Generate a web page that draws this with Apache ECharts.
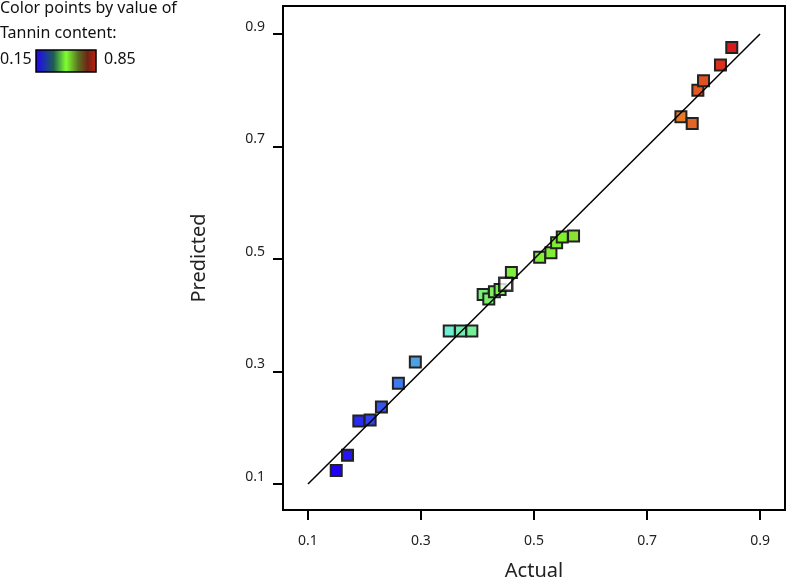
<!DOCTYPE html>
<html>
<head>
<meta charset="utf-8">
<script src="https://cdn.jsdelivr.net/npm/echarts@6/dist/echarts.min.js"></script>
<style>
html,body{margin:0;padding:0;background:#fff;}
#chart{width:786px;height:580px;}
</style>
</head>
<body>
<div id="chart"></div>
<script>
// Data
var actual    = [0.15, 0.17, 0.19, 0.21, 0.23, 0.26, 0.29, 0.35, 0.37, 0.39, 0.41, 0.42, 0.43, 0.44, 0.45, 0.46, 0.51, 0.53, 0.54, 0.55, 0.57, 0.76, 0.78, 0.79, 0.80, 0.83, 0.85];
var predicted = [0.124, 0.151, 0.212, 0.214, 0.237, 0.279, 0.317, 0.372, 0.372, 0.372, 0.437, 0.429, 0.442, 0.446, 0.455, 0.476, 0.503, 0.511, 0.529, 0.539, 0.541, 0.753, 0.741, 0.80, 0.817, 0.845, 0.876];
var highlightedIndex = 14;
var lineX = [0.1, 0.9];
var lineY = [0.1, 0.9];
var tickValues = [0.1, 0.3, 0.5, 0.7, 0.9];
var colorMin = 0.15, colorMax = 0.85;
var colorLabels = ['0.15', '0.85'];

var points = [];
for (var i = 0; i < actual.length; i++) {
  if (i !== highlightedIndex) points.push([actual[i], predicted[i]]);
}
var selPoint = [[actual[highlightedIndex], predicted[highlightedIndex]]];
var lineData = lineX.map(function (x, i) { return [x, lineY[i]]; });

var chart = echarts.init(document.getElementById('chart'), null, {renderer: 'canvas'});
var font = 'Noto Sans';
var axisCommon = {
  type: 'value',
  axisLine: {show: false},
  splitLine: {show: false},
  axisTick: {show: true, inside: false, length: 10, customValues: tickValues, lineStyle: {color: '#000', width: 2}},
  axisLabel: {customValues: tickValues, color: '#222', fontSize: 14, fontFamily: font,
    formatter: function (v) { return String(Math.round(v * 10) / 10); }},
  nameLocation: 'middle',
  nameTextStyle: {color: '#222', fontSize: 20, fontFamily: font}
};

chart.setOption({
  animation: false,
  backgroundColor: '#fff',
  grid: {left: 283, right: 1, top: 6, bottom: 70, show: true, borderColor: '#000', borderWidth: 2,
    backgroundColor: 'transparent', containLabel: false, outerBoundsMode: 'none'},
  xAxis: Object.assign({}, axisCommon, {
    min: 0.0558, max: 0.9442, name: 'Actual', nameGap: 51,
    axisLabel: Object.assign({}, axisCommon.axisLabel, {margin: 24})
  }),
  yAxis: Object.assign({}, axisCommon, {
    min: 0.0538, max: 0.9498, name: 'Predicted', nameGap: 74, nameRotate: 90,
    axisLabel: Object.assign({}, axisCommon.axisLabel, {margin: 18, verticalAlign: 'bottom'})
  }),
  visualMap: {
    show: false, type: 'continuous', dimension: 0, seriesIndex: 0,
    min: colorMin, max: colorMax,
    inRange: {color: ['#2000f4', '#3a6cf0', '#6eeed0', '#7ff040', '#82ee30', '#b4b030', '#e6862a', '#d81a1a']}
  },
  series: [
    {
      type: 'scatter', data: points, symbol: 'rect', symbolSize: 11, z: 2,
      itemStyle: {borderColor: '#222', borderWidth: 2, opacity: 1}
    },
    {
      type: 'scatter', data: selPoint, symbol: 'rect', symbolSize: 13, z: 3,
      itemStyle: {color: '#fff', borderColor: '#000', borderWidth: 2.5}
    },
    {
      type: 'line', data: lineData, showSymbol: false, symbol: 'none', z: 4,
      lineStyle: {color: '#000', width: 1.5}
    }
  ],
  graphic: [
    {type: 'text', left: 0, top: 0, style: {text: 'Color points by value of', font: '16px "' + font + '"', fill: '#111'}},
    {type: 'text', left: 0, top: 25, style: {text: 'Tannin content:', font: '16px "' + font + '"', fill: '#111'}},
    {type: 'text', left: 0, top: 51, style: {text: colorLabels[0], font: '16px "' + font + '"', fill: '#111'}},
    {type: 'rect', shape: {x: 36, y: 50, width: 60, height: 22},
      style: {
        fill: new echarts.graphic.LinearGradient(0, 0, 1, 0, [
          {offset: 0, color: '#2400f0'},
          {offset: 0.15, color: '#1c30b0'},
          {offset: 0.3, color: '#1e6050'},
          {offset: 0.5, color: '#80ff30'},
          {offset: 0.7, color: '#5a7020'},
          {offset: 0.85, color: '#702414'},
          {offset: 1, color: '#c42010'}
        ]),
        stroke: '#000', lineWidth: 1.5
      }},
    {type: 'text', left: 104, top: 51, style: {text: colorLabels[1], font: '16px "' + font + '"', fill: '#111'}}
  ]
});
</script>
</body>
</html>
